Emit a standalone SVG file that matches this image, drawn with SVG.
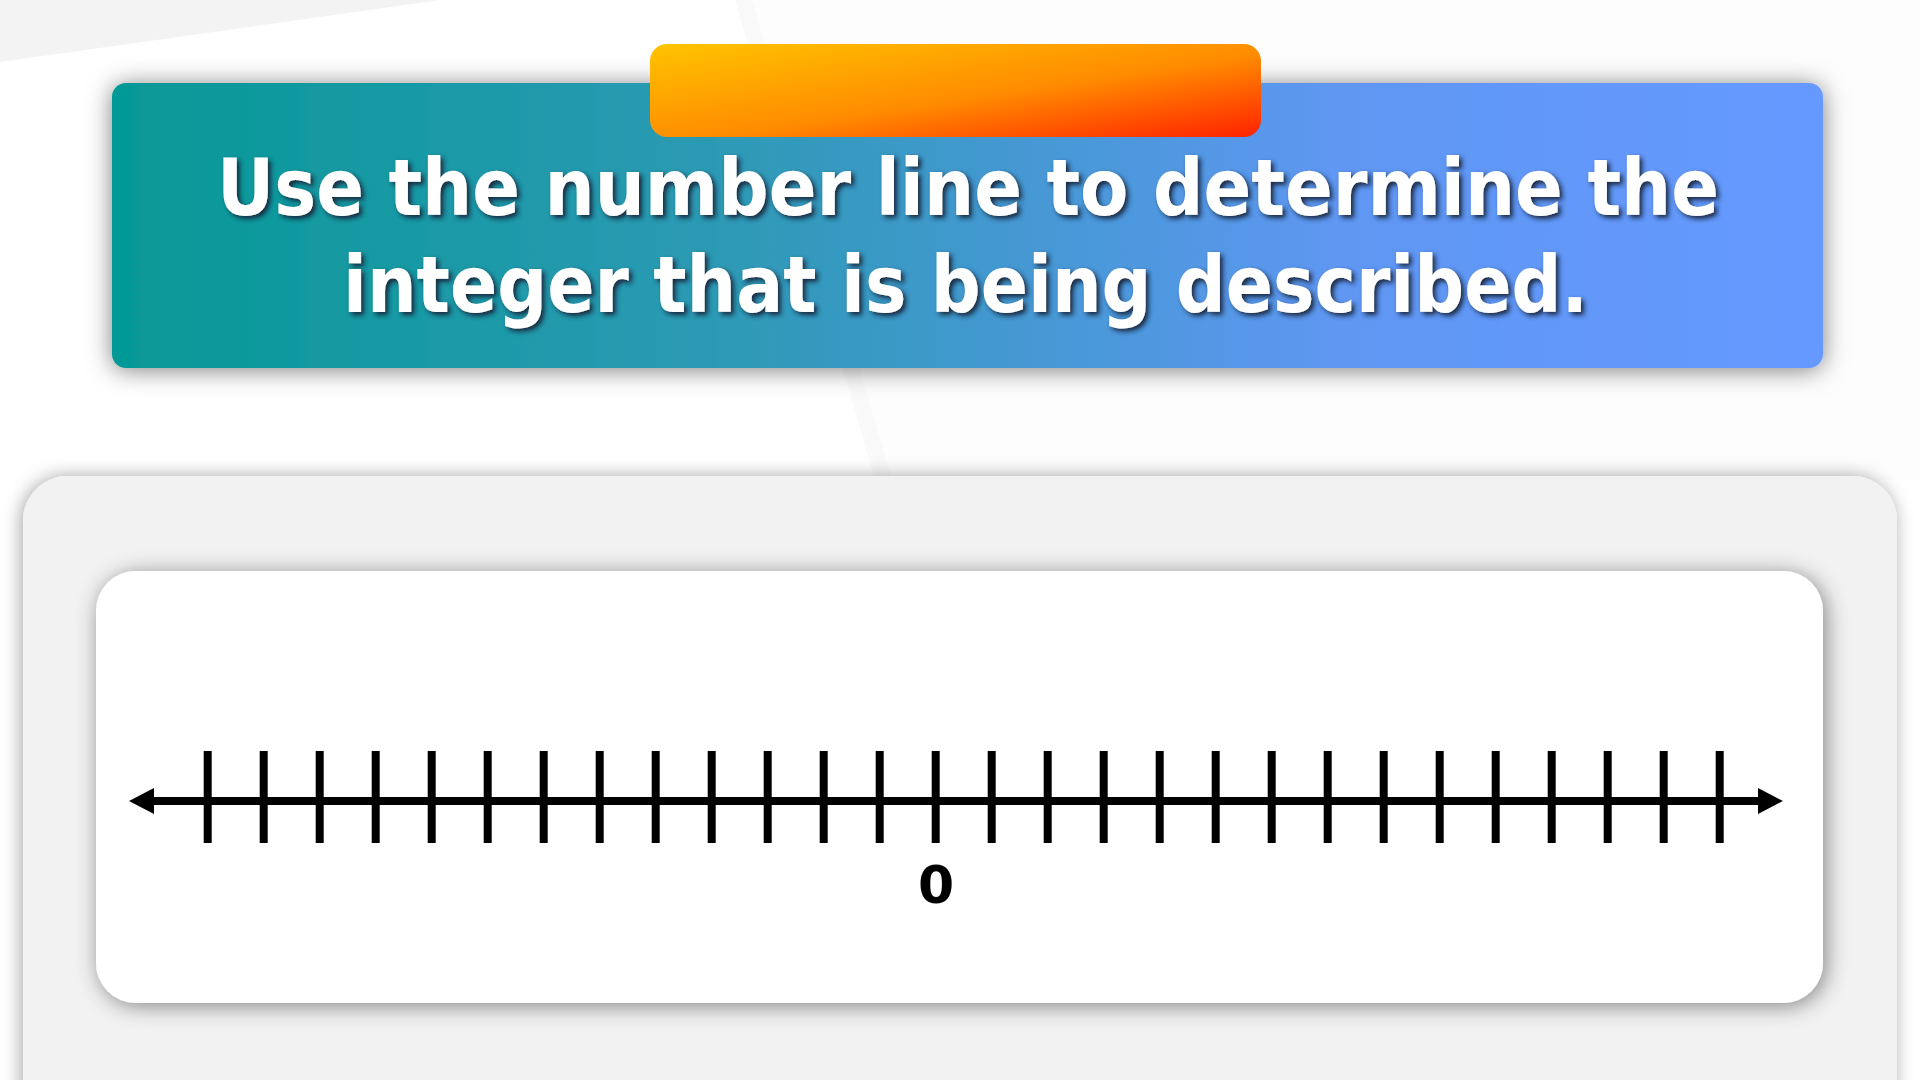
<svg xmlns="http://www.w3.org/2000/svg" width="1920" height="1080" viewBox="0 0 1920 1080">
  <defs>
    <linearGradient id="bannerGrad" x1="0" y1="0" x2="1" y2="0">
      <stop offset="0" stop-color="#059996"/>
      <stop offset="0.35" stop-color="#2c9ab4"/>
      <stop offset="0.72" stop-color="#5f97f3"/>
      <stop offset="1" stop-color="#6699ff"/>
    </linearGradient>
    <linearGradient id="tabGrad" x1="0" y1="0" x2="1" y2="1">
      <stop offset="0" stop-color="#ffc400"/>
      <stop offset="0.55" stop-color="#ff8c00"/>
      <stop offset="1" stop-color="#ff2200"/>
    </linearGradient>
    <filter id="boxShadow" x="-5%" y="-25%" width="110%" height="150%">
      <feDropShadow dx="0" dy="2" stdDeviation="12" flood-color="#000" flood-opacity="0.5"/>
    </filter>
    <filter id="panelShadow" x="-5%" y="-10%" width="110%" height="130%">
      <feDropShadow dx="-2" dy="0" stdDeviation="9" flood-color="#000" flood-opacity="0.35"/>
    </filter>
    <filter id="innerShadow" x="-5%" y="-10%" width="110%" height="130%">
      <feDropShadow dx="3" dy="3" stdDeviation="11" flood-color="#000" flood-opacity="0.45"/>
    </filter>
    <filter id="textShadow" x="-5%" y="-20%" width="110%" height="150%">
      <feDropShadow dx="3" dy="3" stdDeviation="2.5" flood-color="#15233a" flood-opacity="0.95"/>
    </filter>
    <style>
      .title { font-family: "DejaVu Sans", Verdana, sans-serif; font-weight: bold; font-size: 79px; fill: #ffffff; }
      .label { font-family: "DejaVu Sans", Verdana, sans-serif; font-weight: bold; font-size: 52px; fill: #000000; text-anchor: middle; }
      .tick { stroke: #000; stroke-width: 8; }
      .axis { stroke: #000; stroke-width: 8; }
    </style>
  </defs>

  <!-- background -->
  <rect x="0" y="0" width="1920" height="1080" fill="#ffffff"/>
  <polygon points="0,0 440,0 0,62" fill="#f3f3f3"/>
  <polygon points="735,0 1920,0 1920,480 880,480" fill="#fdfdfd"/>
  <polygon points="735,0 752,0 892,480 875,480" fill="#f7f7f7" opacity="0.6"/>

  <!-- title banner -->
  <g id="title-banner">
    <rect x="112" y="83" width="1711" height="285" rx="14" fill="url(#bannerGrad)" filter="url(#boxShadow)"/>
    <rect x="650" y="44" width="611" height="93" rx="17" fill="url(#tabGrad)"/>
    <g filter="url(#textShadow)">
      <text class="title" x="217" y="215" textLength="1502" lengthAdjust="spacingAndGlyphs">Use the number line to determine the</text>
      <text class="title" x="343" y="312" textLength="1245" lengthAdjust="spacingAndGlyphs">integer that is being described.</text>
    </g>
  </g>

  <!-- panel -->
  <g id="panel">
    <rect x="23" y="476" width="1874" height="660" rx="45" fill="#f2f2f2" filter="url(#panelShadow)"/>
    <rect x="96" y="571" width="1727" height="432" rx="40" fill="#ffffff" filter="url(#innerShadow)"/>
  </g>

  <!-- number line -->
  <g id="connectors">
    <line class="axis" x1="148" y1="801" x2="1764" y2="801"/>
    <polygon points="129,801 154,788 154,814" fill="#000"/>
    <polygon points="1783,801 1758,788 1758,814" fill="#000"/>
  </g>
  <g id="number-line-ticks">
    <line class="tick" x1="207.7" y1="751" x2="207.7" y2="843"/>
    <line class="tick" x1="263.7" y1="751" x2="263.7" y2="843"/>
    <line class="tick" x1="319.7" y1="751" x2="319.7" y2="843"/>
    <line class="tick" x1="375.7" y1="751" x2="375.7" y2="843"/>
    <line class="tick" x1="431.7" y1="751" x2="431.7" y2="843"/>
    <line class="tick" x1="487.7" y1="751" x2="487.7" y2="843"/>
    <line class="tick" x1="543.7" y1="751" x2="543.7" y2="843"/>
    <line class="tick" x1="599.7" y1="751" x2="599.7" y2="843"/>
    <line class="tick" x1="655.7" y1="751" x2="655.7" y2="843"/>
    <line class="tick" x1="711.7" y1="751" x2="711.7" y2="843"/>
    <line class="tick" x1="767.7" y1="751" x2="767.7" y2="843"/>
    <line class="tick" x1="823.7" y1="751" x2="823.7" y2="843"/>
    <line class="tick" x1="879.7" y1="751" x2="879.7" y2="843"/>
    <line class="tick" x1="935.7" y1="751" x2="935.7" y2="843"/>
    <line class="tick" x1="991.7" y1="751" x2="991.7" y2="843"/>
    <line class="tick" x1="1047.7" y1="751" x2="1047.7" y2="843"/>
    <line class="tick" x1="1103.7" y1="751" x2="1103.7" y2="843"/>
    <line class="tick" x1="1159.7" y1="751" x2="1159.7" y2="843"/>
    <line class="tick" x1="1215.7" y1="751" x2="1215.7" y2="843"/>
    <line class="tick" x1="1271.7" y1="751" x2="1271.7" y2="843"/>
    <line class="tick" x1="1327.7" y1="751" x2="1327.7" y2="843"/>
    <line class="tick" x1="1383.7" y1="751" x2="1383.7" y2="843"/>
    <line class="tick" x1="1439.7" y1="751" x2="1439.7" y2="843"/>
    <line class="tick" x1="1495.7" y1="751" x2="1495.7" y2="843"/>
    <line class="tick" x1="1551.7" y1="751" x2="1551.7" y2="843"/>
    <line class="tick" x1="1607.7" y1="751" x2="1607.7" y2="843"/>
    <line class="tick" x1="1663.7" y1="751" x2="1663.7" y2="843"/>
    <line class="tick" x1="1719.7" y1="751" x2="1719.7" y2="843"/>
  </g>
  <g id="zero-label">
    <text class="label" x="936" y="903">0</text>
  </g>
</svg>
